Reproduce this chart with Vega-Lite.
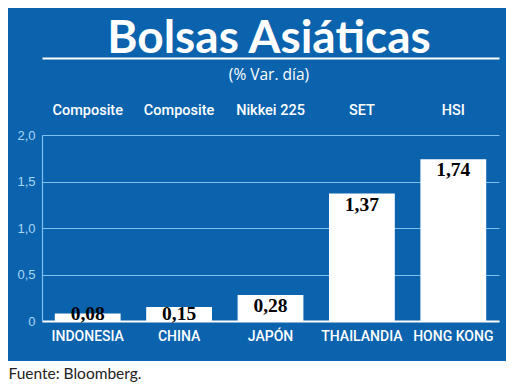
{
  "$schema": "https://vega.github.io/schema/vega-lite/v6.json",
  "width": 498,
  "height": 353,
  "autosize": {"type": "none"},
  "padding": {"left": 8, "top": 8, "right": 14, "bottom": 31},
  "background": "white",
  "config": {"view": {"fill": "#0b63ae", "stroke": null}},
  "title": {
    "text": "Bolsas Asiáticas",
    "subtitle": "(% Var. día)",
    "anchor": "middle",
    "orient": "top",
    "frame": "group",
    "offset": -76,
    "dx": 12,
    "color": "white",
    "font": "Lato",
    "fontSize": 46,
    "fontWeight": 700,
    "subtitleColor": "white",
    "subtitleFont": "Open Sans",
    "subtitleFontSize": 15.5,
    "subtitlePadding": 5
  },
  "data": {
    "values": [
      {"country": "INDONESIA", "index": "Composite", "value": 0.08},
      {"country": "CHINA", "index": "Composite", "value": 0.15},
      {"country": "JAPÓN", "index": "Nikkei 225", "value": 0.28},
      {"country": "THAILANDIA", "index": "SET", "value": 1.37},
      {"country": "HONG KONG", "index": "HSI", "value": 1.74}
    ]
  },
  "transform": [
    {"calculate": "datum.index + '|' + datum.country", "as": "key"},
    {"calculate": "replace(format(datum.value, '.2f'), '.', ',')", "as": "label"},
    {"calculate": "max(datum.value, 0.19)", "as": "ly"}
  ],
  "layer": [
    {
      "mark": {"type": "bar", "color": "white"},
      "encoding": {
        "x": {
          "field": "key",
          "type": "nominal",
          "sort": null,
          "scale": {"range": [34, 491], "paddingInner": 0.28, "paddingOuter": 0.14},
          "axis": {
            "orient": "bottom",
            "offset": -40,
            "grid": false,
            "domainColor": "white",
            "domainWidth": 2,
            "ticks": false,
            "labelColor": "white",
            "labelFont": "Roboto",
            "labelFontSize": 14,
            "labelFontWeight": 500,
            "labelPadding": 8,
            "labelAngle": 0,
            "labelExpr": "split(datum.value, '|')[1]",
            "title": "Fuente: Bloomberg.",
            "titleColor": "#222222",
            "titleFont": "Lato",
            "titleFontSize": 15.5,
            "titleFontWeight": "normal",
            "titleAnchor": "start",
            "titleAlign": "left",
            "titleBaseline": "top",
            "titleX": 0,
            "titleY": 45
          }
        },
        "y": {
          "field": "value",
          "type": "quantitative",
          "scale": {"domain": [0, 2], "range": [313, 127], "nice": false, "zero": true},
          "axis": {
            "orient": "left",
            "offset": -34,
            "values": [0, 0.5, 1, 1.5, 2],
            "grid": true,
            "gridColor": "#7fc1ee",
            "gridWidth": 1.2,
            "domain": true,
            "domainColor": "#7fc1ee",
            "domainWidth": 1.2,
            "ticks": false,
            "labelColor": "#a9d6f7",
            "labelFont": "Liberation Sans",
            "labelFontSize": 13,
            "labelPadding": 7,
            "title": null,
            "labelExpr": "datum.value == 0 ? '0' : replace(format(datum.value, '.1f'), '.', ',')"
          }
        }
      }
    },
    {
      "mark": {
        "type": "text",
        "font": "Liberation Serif",
        "fontSize": 19.5,
        "fontWeight": "bold",
        "color": "black",
        "baseline": "top",
        "dy": 2
      },
      "encoding": {
        "x": {
          "field": "key",
          "type": "nominal",
          "sort": null,
          "axis": {
            "orient": "top",
            "offset": -50,
            "grid": false,
            "domainColor": "white",
            "domainWidth": 2,
            "ticks": false,
            "labelColor": "white",
            "labelFont": "Roboto",
            "labelFontSize": 14.5,
            "labelFontWeight": 500,
            "labelPadding": -59,
            "labelAngle": 0,
            "labelExpr": "split(datum.value, '|')[0]",
            "title": null
          }
        },
        "y": {
          "field": "ly",
          "type": "quantitative",
          "axis": {
            "orient": "left",
            "offset": -34,
            "values": [0, 0.5, 1, 1.5, 2],
            "grid": true,
            "gridColor": "#7fc1ee",
            "gridWidth": 1.2,
            "domain": true,
            "domainColor": "#7fc1ee",
            "domainWidth": 1.2,
            "ticks": false,
            "labelColor": "#a9d6f7",
            "labelFont": "Liberation Sans",
            "labelFontSize": 13,
            "labelPadding": 7,
            "title": null,
            "labelExpr": "datum.value == 0 ? '0' : replace(format(datum.value, '.1f'), '.', ',')"
          }
        },
        "text": {"field": "label"}
      }
    }
  ],
  "resolve": {"axis": {"x": "independent"}}
}
